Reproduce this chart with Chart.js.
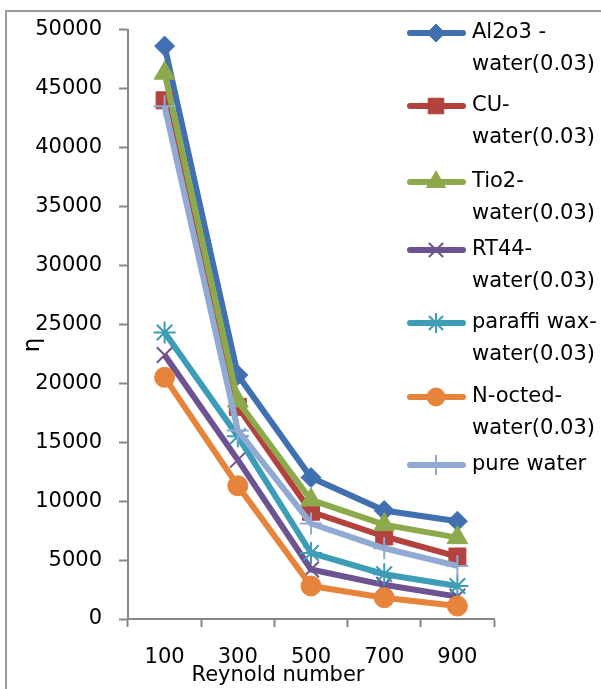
<!DOCTYPE html>
<html>
<head>
<meta charset="utf-8">
<script src="https://cdn.jsdelivr.net/npm/chart.js@4.4.1/dist/chart.umd.min.js"></script>
<style>
  html, body { margin: 0; padding: 0; background: #fff; }
  #wrap { width: 601px; height: 689px; }
</style>
</head>
<body>
<div id="wrap"><canvas id="etaChart" width="601" height="689"></canvas></div>
<script>
// data
const reynolds = ['100', '300', '500', '700', '900'];
const seriesNames = [
    ['Al2o3 -', 'water(0.03)'],
    ['CU-', 'water(0.03)'],
    ['Tio2-', 'water(0.03)'],
    ['RT44-', 'water(0.03)'],
    ['paraffi wax-', 'water(0.03)'],
    ['N-octed-', 'water(0.03)'],
    ['pure water']
];
const al2o3 = [48600, 20700, 12000, 9200, 8300];
const cu = [44000, 18000, 9100, 7000, 5300];
const tio2 = [46300, 18500, 10100, 8000, 6900];
const rt44 = [22400, 13500, 4200, 2900, 1900];
const paraffin = [24300, 15500, 5600, 3800, 2800];
const noctane = [20500, 11300, 2800, 1800, 1100];
const pureWater = [43500, 16000, 8100, 6000, 4500];
const yTicks = [0, 5000, 10000, 15000, 20000, 25000, 30000, 35000, 40000, 45000, 50000];

const FONT = 'DejaVu Sans';
const colors = ['#4170B0', '#B3423F', '#8CAA4B', '#6E5393', '#3D9DB6', '#E6843B', '#90AAD3'];
const shapes = ['rectRot', 'rect', 'triangle', 'crossRot', 'star', 'circle', 'cross'];
const radii = [10, 12, 12, 11, 11, 10, 11];
const allData = [al2o3, cu, tio2, rt44, paraffin, noctane, pureWater];

let datasets = allData.map(function (d, i) {
    let lineMarker = (shapes[i] === 'crossRot' || shapes[i] === 'star' || shapes[i] === 'cross');
    return {
        label: seriesNames[i].join(' '),
        data: d,
        borderColor: colors[i],
        backgroundColor: colors[i],
        borderWidth: 6,
        pointStyle: shapes[i],
        pointRadius: radii[i],
        pointHoverRadius: radii[i],
        pointBorderWidth: lineMarker ? 2 : 1,
        pointBackgroundColor: colors[i],
        pointBorderColor: colors[i],
        tension: 0,
        order: -i
    };
});

// outer frame, axis titles and the wrapped legend
const extras = {
    id: 'extras',
    beforeDraw(chart) {
        let c = chart.ctx;
        c.save();
        c.fillStyle = '#fff';
        c.fillRect(0, 0, chart.width, chart.height);
        c.strokeStyle = '#9a9a9a';
        c.lineWidth = 2;
        c.beginPath();
        c.moveTo(6, chart.height + 5);
        c.lineTo(6, 11);
        c.lineTo(chart.width + 5, 11);
        c.stroke();
        c.restore();
    },
    afterDraw(chart) {
        let c = chart.ctx;
        let area = chart.chartArea;
        c.save();
        c.fillStyle = '#000';
        c.font = '21px "' + FONT + '"';
        c.textBaseline = 'middle';
        c.textAlign = 'center';
        c.fillText('Reynold number', area.left + 150, 676);
        c.font = '23px "' + FONT + '"';
        c.translate(33, 345);
        c.rotate(-Math.PI / 2);
        c.fillText('η', 0, 0);
        c.restore();

        // legend
        c.save();
        let tops = [33, 106, 182, 250, 323, 397, 465];
        chart.data.datasets.forEach(function (ds, i) {
            let y = tops[i];
            c.strokeStyle = ds.borderColor;
            c.lineWidth = 6;
            c.lineCap = 'round';
            c.beginPath();
            c.moveTo(410, y);
            c.lineTo(463, y);
            c.stroke();
            c.lineCap = 'butt';
            c.fillStyle = ds.borderColor;
            c.lineWidth = ds.pointBorderWidth;
            Chart.helpers.drawPoint(c, {pointStyle: ds.pointStyle, radius: ds.pointRadius - 1, rotation: 0, borderWidth: ds.pointBorderWidth}, 436, y);
            c.fillStyle = '#000';
            c.font = '21px "' + FONT + '"';
            c.textAlign = 'left';
            c.textBaseline = 'middle';
            seriesNames[i].forEach(function (line, k) {
                c.fillText(line, 472, y + k * 32);
            });
        });
        c.restore();
    }
};

let ctx = document.getElementById('etaChart').getContext('2d');
let etaChart = new Chart(ctx, {
    type: 'line',
    data: {
        labels: reynolds,
        datasets: datasets
    },
    plugins: [extras],
    options: {
        responsive: false,
        animation: false,
        events: [],
        layout: {
            padding: {top: 27, right: 107, left: 10, bottom: 0}
        },
        plugins: {
            legend: {display: false},
            tooltip: {enabled: false}
        },
        scales: {
            x: {
                offset: true,
                grid: {
                    display: true,
                    offset: true,
                    drawOnChartArea: false,
                    tickLength: 8,
                    tickColor: '#868686',
                    tickWidth: 2
                },
                border: {color: '#868686', width: 2},
                ticks: {
                    color: '#000',
                    font: {family: FONT, size: 21},
                    padding: 18,
                    maxRotation: 0
                },
                afterFit(scale) {
                    scale.height = 70;
                }
            },
            y: {
                min: 0,
                max: 50000,
                afterBuildTicks(scale) {
                    scale.ticks = yTicks.map(function (v) { return {value: v}; });
                },
                grid: {
                    display: true,
                    drawOnChartArea: false,
                    tickLength: 9,
                    tickColor: '#868686',
                    tickWidth: 2
                },
                border: {color: '#868686', width: 2},
                ticks: {
                    color: '#000',
                    font: {family: FONT, size: 21},
                    padding: 17,
                    callback: function (v) { return String(v); }
                },
                afterFit(scale) {
                    scale.width = 118;
                }
            }
        }
    }
});
</script>
</body>
</html>
